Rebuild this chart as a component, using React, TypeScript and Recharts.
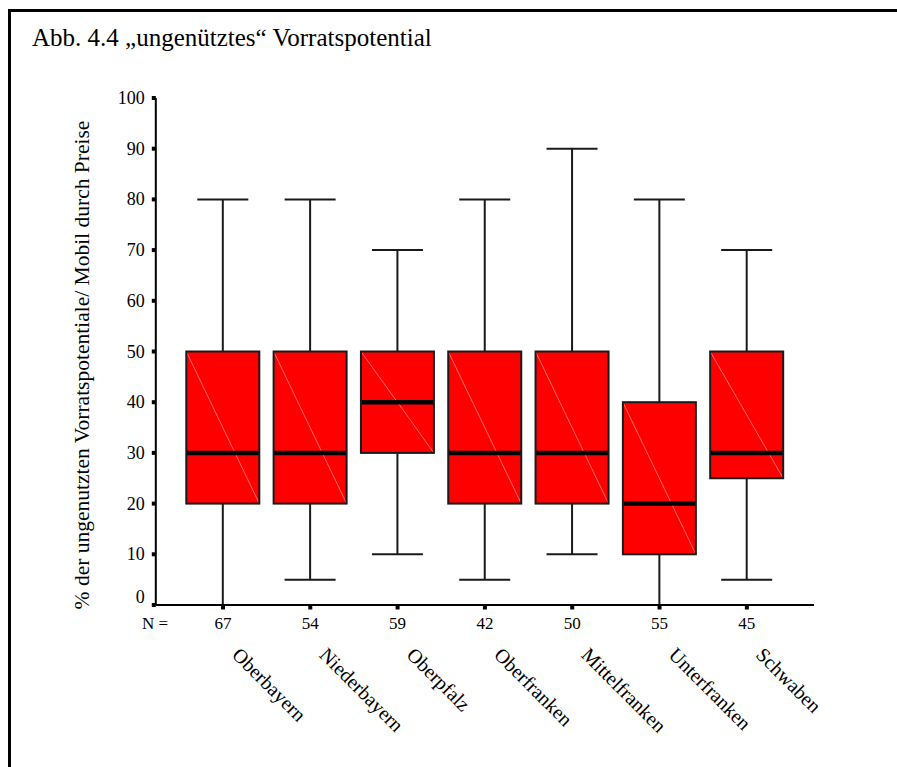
import React from 'react';
import { ComposedChart, Bar, XAxis, YAxis } from 'recharts';

const FONT = '"Liberation Serif", "Times New Roman", Times, serif';
const FS = { fontFamily: FONT };

const categories = ['Oberbayern', 'Niederbayern', 'Oberpfalz', 'Oberfranken', 'Mittelfranken', 'Unterfranken', 'Schwaben'];
const nValues = [67, 54, 59, 42, 50, 55, 45];
const minValues = [0, 5, 10, 5, 10, 0, 5];
const q1Values = [20, 20, 30, 20, 20, 10, 25];
const medianValues = [30, 30, 40, 30, 30, 20, 30];
const q3Values = [50, 50, 50, 50, 50, 40, 50];
const maxValues = [80, 80, 70, 80, 90, 80, 70];
const yTicks = [0, 10, 20, 30, 40, 50, 60, 70, 80, 90, 100];

const titleText = 'Abb. 4.4 \u201Eungen\u00FCtztes\u201C Vorratspotential';
const yAxisTitle = '% der ungenutzten Vorratspotentiale/ Mobil durch Preise';
const nLabel = 'N =';

const data = categories.map((name, i) => ({
  name,
  n: nValues[i],
  min: minValues[i],
  q1: q1Values[i],
  median: medianValues[i],
  q3: q3Values[i],
  max: maxValues[i],
  base: minValues[i],
  lowWhisker: q1Values[i] - minValues[i],
  box: q3Values[i] - q1Values[i],
  highWhisker: maxValues[i] - q3Values[i],
}));

const CAP_HALF = 25.5;
const LINE = '#1a1a1a';

const EmptyShape = () => <g />;

const LowWhiskerShape = (props: any) => {
  const { x, y, width, height } = props;
  const cx = x + width / 2;
  const bottom = y + height;
  return (
    <g>
      <line x1={cx} y1={y} x2={cx} y2={bottom} stroke={LINE} strokeWidth={2} />
      <line x1={cx - CAP_HALF} y1={bottom} x2={cx + CAP_HALF} y2={bottom} stroke={LINE} strokeWidth={2} />
    </g>
  );
};

const HighWhiskerShape = (props: any) => {
  const { x, y, width, height } = props;
  const cx = x + width / 2;
  return (
    <g>
      <line x1={cx} y1={y} x2={cx} y2={y + height} stroke={LINE} strokeWidth={2} />
      <line x1={cx - CAP_HALF} y1={y} x2={cx + CAP_HALF} y2={y} stroke={LINE} strokeWidth={2} />
    </g>
  );
};

const BoxShape = (props: any) => {
  const { x, y, width, height, payload, index } = props;
  const row = payload && payload.q3 !== undefined ? payload : data[index];
  const frac = (row.q3 - row.median) / (row.q3 - row.q1);
  const my = y + height * frac;
  return (
    <g>
      <rect x={x} y={y} width={width} height={height} fill="#ff0000" stroke="none" />
      <line x1={x} y1={y} x2={x + width} y2={y + height} stroke="#ff6b6b" strokeWidth={1} />
      <line x1={x} y1={my} x2={x + width} y2={my} stroke="#000" strokeWidth={4.5} />
      <rect x={x} y={y} width={width} height={height} fill="none" stroke={LINE} strokeWidth={2} />
    </g>
  );
};

const YTick = (props: any) => {
  const { x, y, payload } = props;
  const v = payload.value;
  return (
    <g>
      <rect x={x - 4} y={y - 2} width={4} height={4} fill="#000" />
      <text x={x - 11} y={v === 0 ? y - 2.5 : y + 6} textAnchor="end" fontFamily={FONT} style={FS} fontSize={18} fill="#000">
        {v}
      </text>
    </g>
  );
};

const XTick = (props: any) => {
  const { x, y, payload } = props;
  const idx = categories.indexOf(payload.value);
  const px = x + 8;
  const py = y + 51;
  return (
    <g>
      <rect x={x - 2} y={y + 1} width={4} height={3.5} fill="#000" />
      <text x={x} y={y + 24} textAnchor="middle" fontFamily={FONT} style={FS} fontSize={17} fill="#000">
        {idx >= 0 ? nValues[idx] : ''}
      </text>
      <text x={px} y={py} transform={`rotate(45, ${px}, ${py})`} textAnchor="start" fontFamily={FONT} style={FS} fontSize={20} fill="#000">
        {payload.value}
      </text>
    </g>
  );
};

export default function App() {
  return (
    <div style={{ position: 'relative', width: 897, height: 767, overflow: 'hidden', fontFamily: FONT }}>
      <style>{`html, body { margin: 0; padding: 0; overflow: hidden; }`}</style>
      <div
        style={{
          position: 'absolute',
          left: 8,
          top: 9,
          width: 889,
          height: 758,
          boxSizing: 'border-box',
          borderTop: '3px solid #000',
          borderLeft: '3px solid #000',
        }}
      />
      <div style={{ position: 'absolute', left: 0, top: 0, width: 897, height: 767 }}>
        <ComposedChart
          width={897}
          height={767}
          data={data}
          margin={{ top: 98, right: 83, bottom: 12, left: 95.8 }}
        >
          <XAxis
            dataKey="name"
            type="category"
            interval={0}
            height={150}
            padding={{ left: 23.5, right: 23.5 }}
            axisLine={{ stroke: '#000', strokeWidth: 2 }}
            tickLine={false}
            tickSize={0}
            tickMargin={0}
            tick={<XTick />}
          />
          <YAxis
            type="number"
            domain={[0, 100]}
            ticks={yTicks}
            interval={0}
            width={60}
            axisLine={{ stroke: '#000', strokeWidth: 2 }}
            tickLine={false}
            tickSize={0}
            tickMargin={0}
            tick={<YTick />}
          />
          <Bar dataKey="base" stackId="a" barSize={73} shape={<EmptyShape />} isAnimationActive={false} />
          <Bar dataKey="lowWhisker" stackId="a" barSize={73} shape={<LowWhiskerShape />} isAnimationActive={false} />
          <Bar dataKey="box" stackId="a" barSize={73} shape={<BoxShape />} isAnimationActive={false} />
          <Bar dataKey="highWhisker" stackId="a" barSize={73} shape={<HighWhiskerShape />} isAnimationActive={false} />
        </ComposedChart>
      </div>
      <svg
        width={897}
        height={767}
        style={{ position: 'absolute', left: 0, top: 0, pointerEvents: 'none' }}
      >
        <text x={32} y={46} fontFamily={FONT} style={FS} fontSize={25} fill="#000">
          {titleText}
        </text>
        <text
          x={89}
          y={365}
          transform="rotate(-90, 89, 365)"
          textAnchor="middle"
          fontFamily={FONT}
          style={FS}
          fontSize={21.5}
          fill="#000"
        >
          {yAxisTitle}
        </text>
        <text x={142} y={629} fontFamily={FONT} style={FS} fontSize={17} fill="#000">
          {nLabel}
        </text>
      </svg>
    </div>
  );
}
